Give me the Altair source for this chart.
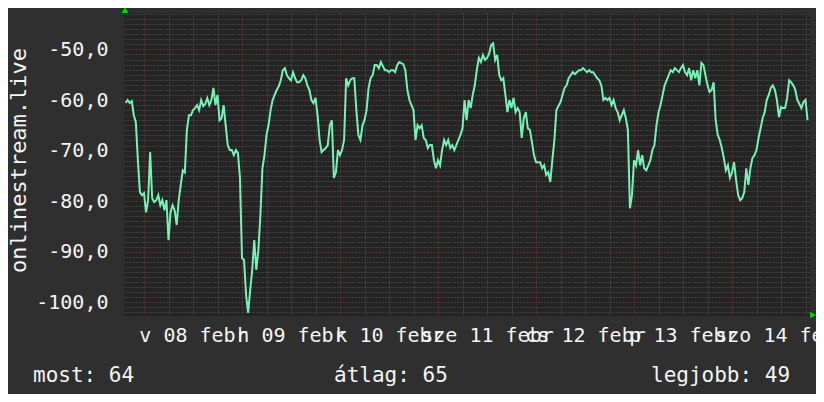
import json
import altair as alt
import pandas as pd

# ---- data ----
values = [
    -60.6, -60.0, -60.6, -60.2, -63.0, -64.4, -71.9, -78.2, -78.8, -78.4, -82.2, -79.8,
    -70.3, -79.4, -80.2, -79.8, -78.8, -80.8, -79.8, -81.8, -79.8, -87.7, -82.2, -80.8,
    -81.8, -84.7, -79.8, -76.8, -73.9, -74.3, -65.9, -63.0, -63.0, -62.0, -61.6, -61.0,
    -62.0, -60.0, -61.2, -60.8, -59.6, -61.0, -60.0, -57.6, -61.0, -59.0, -64.0, -63.6,
    -61.0, -65.0, -68.9, -69.9, -69.9, -70.9, -69.9, -70.5, -75.4, -91.3, -91.6, -98.6,
    -102.1, -97.6, -93.6, -87.7, -93.6, -89.7, -82.8, -73.5, -70.9, -66.9, -65.0, -62.0,
    -60.0, -59.0, -58.0, -57.3, -56.1, -54.1, -53.7, -55.1, -55.7, -56.1, -54.5, -55.7,
    -56.5, -56.5, -56.1, -55.1, -55.7, -57.1, -58.0, -60.0, -60.6, -59.6, -63.0, -67.9,
    -70.3, -69.9, -69.5, -68.9, -65.0, -64.0, -75.4, -74.3, -69.9, -70.9, -69.9, -67.9,
    -55.7, -57.1, -56.1, -55.7, -55.7, -62.0, -66.9, -67.9, -65.0, -64.0, -62.0, -57.6,
    -55.7, -55.1, -53.1, -53.1, -53.7, -52.5, -53.3, -54.1, -54.1, -54.5, -54.1, -54.1,
    -54.5, -53.1, -52.5, -52.7, -52.9, -54.1, -58.0, -60.0, -61.0, -62.0, -67.9, -65.0,
    -65.6, -65.0, -67.5, -67.9, -69.5, -68.9, -68.9, -71.9, -73.5, -71.9, -72.9, -69.9,
    -67.9, -68.9, -67.9, -69.5, -68.9, -69.9, -68.9, -67.9, -66.9, -65.6, -60.0, -64.0,
    -60.0, -61.6, -59.0, -57.1, -54.1, -51.7, -52.5, -51.1, -52.1, -51.7, -50.9, -49.2,
    -48.8, -52.1, -51.1, -55.1, -56.1, -55.7, -59.0, -62.4, -60.0, -61.6, -59.6, -62.4,
    -61.6, -62.4, -67.5, -63.6, -62.4, -65.6, -65.9, -68.3, -70.9, -72.3, -72.3, -72.3,
    -73.5, -72.9, -74.8, -74.3, -76.2, -71.9, -67.9, -62.0, -61.2, -60.4, -59.0, -57.6,
    -57.1, -55.7, -55.1, -54.5, -54.9, -54.5, -54.1, -54.1, -53.7, -54.1, -54.5, -54.1,
    -54.5, -54.5, -55.1, -55.7, -56.1, -57.1, -60.0, -59.6, -60.0, -59.6, -61.0, -60.0,
    -61.6, -62.4, -64.0, -63.0, -62.0, -63.6, -65.9, -81.4, -78.8, -71.9, -72.9, -69.9,
    -72.9, -70.9, -73.5, -73.9, -72.9, -71.9, -69.9, -68.9, -65.0, -62.4, -61.0, -59.0,
    -57.1, -56.1, -55.1, -54.1, -54.5, -53.7, -54.1, -54.5, -53.7, -53.1, -54.5, -55.1,
    -53.7, -56.1, -54.1, -55.7, -54.1, -57.1, -52.7, -53.1, -55.1, -57.1, -58.4, -58.0,
    -56.5, -64.0, -66.9, -67.9, -69.5, -71.5, -73.9, -72.9, -75.4, -74.3, -72.3, -75.8,
    -78.8, -79.8, -79.4, -78.2, -73.5, -76.8, -73.5, -71.5, -70.9, -69.9, -67.5, -65.6,
    -63.6, -62.4, -60.0, -59.0, -57.6, -57.1, -58.0, -60.0, -63.4, -61.4, -61.6, -61.6,
    -59.6, -56.1, -56.5, -57.1, -58.0, -60.0, -60.8, -61.6, -60.4, -60.0, -64.0,
]
start_hour = -4.5          # hours relative to 08 febr 00:00
step_hours = 0.5           # 30 minute samples
hours = [start_hour + step_hours * i for i in range(len(values))]

day_labels = ["v 08 febr", "h 09 febr", "k 10 febr", "sze 11 febr",
              "cs 12 febr", "p 13 febr", "szo 14 febr"]
x_ticks = list(range(0, 163, 6))
y_ticks = list(range(-102, -42))
x_domain = [-4.9, 163.1]
y_domain = [-102.7, -42.8]
y_title = "onlinestream.live"
legend_texts = ["most: 64", "átlag: 65", "legjobb: 49"]

# ---- styling ----
FONT = "DejaVu Sans Mono"
BG = "#2f2f2f"
PLOT_BG = "#242424"
MINOR = "#5a5a5a"
MAJOR = "#7e3b3b"
LINE = "#77f2b4"
TXT = "#f4f4f4"
ARROW = "#00d800"

df = pd.DataFrame({"h": hours, "v": values})

label_expr_x = ("datum.value % 24 === 12 ? " + json.dumps(day_labels)
                + "[floor(datum.value / 24)] : ''")

x_scale = alt.Scale(domain=x_domain, nice=False, zero=False)
y_scale = alt.Scale(domain=y_domain, nice=False, zero=False)

x_axis = alt.Axis(
    values=x_ticks, labelExpr=label_expr_x, grid=True,
    gridColor={"condition": {"test": "datum.value % 24 === 0", "value": MAJOR}, "value": MINOR},
    gridDash=[1, 2], gridWidth=1, ticks=False, domain=False,
    labelOverlap=False, labelFlush=False, labelBound=False,
    labelFont=FONT, labelFontSize=20, labelColor=TXT, labelPadding=9,
    labelBaseline="top", title=None,
)
y_axis = alt.Axis(
    values=y_ticks,
    labelExpr="datum.value % 10 === 0 ? toString(datum.value) + ',0' : ''",
    grid=True,
    gridColor={"condition": {"test": "datum.value % 10 === 0", "value": MAJOR}, "value": MINOR},
    gridDash=[1, 2], gridWidth=1, ticks=False, domain=False,
    labelOverlap=False, labelFlush=False, labelBound=False,
    labelFont=FONT, labelFontSize=20, labelColor=TXT, labelPadding=16,
    labelBaseline="middle",
    title=y_title, titleFont=FONT, titleFontSize=22, titleFontWeight="normal",
    titleColor=TXT, titleAngle=270, titleX=-99, titleY=147,
    titleAlign="center", titleBaseline="alphabetic",
)

X = alt.X("h:Q", scale=x_scale, axis=x_axis)
Y = alt.Y("v:Q", scale=y_scale, axis=y_axis)

line = alt.Chart(df).mark_line(color=LINE, strokeWidth=2).encode(x=X, y=Y)

top_arrow = alt.Chart(pd.DataFrame({"h": [x_domain[0]], "v": [y_domain[1]]})).mark_point(
    shape="triangle-up", filled=True, color=ARROW, opacity=1, size=45, xOffset=1, yOffset=-3
).encode(x=X, y=Y)

right_arrow = alt.Chart(pd.DataFrame({"h": [x_domain[1]], "v": [y_domain[0]]})).mark_point(
    shape="triangle-right", filled=True, color=ARROW, opacity=1, size=45, xOffset=3, yOffset=-1
).encode(x=X, y=Y)

legend_x = [-91, 210, 527]
legend_layers = []
for txt, lx in zip(legend_texts, legend_x):
    legend_layers.append(
        alt.Chart(pd.DataFrame({"t": [txt]})).mark_text(
            font=FONT, fontSize=21, color=TXT, align="left", baseline="alphabetic"
        ).encode(text="t:N", x=alt.value(lx), y=alt.value(369))
    )

chart = alt.layer(line, top_arrow, right_arrow, *legend_layers).properties(
    width=686, height=303,
    padding={"left": 116, "top": 5, "right": 6, "bottom": 78},
    autosize=alt.AutoSizeParams(type="none"),
    background=BG,
).configure_view(fill=PLOT_BG, strokeWidth=0)

chart.save("out.html", embed_options={"renderer": "svg", "actions": False})
